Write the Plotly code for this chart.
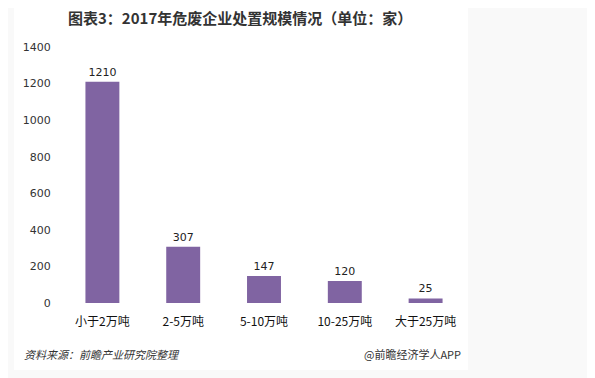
import plotly.graph_objects as go

categories = ["小于2万吨", "2-5万吨", "5-10万吨", "10-25万吨", "大于25万吨"]
values = [1210, 307, 147, 120, 25]
y_ticks = [0, 200, 400, 600, 800, 1000, 1200, 1400]

OFF = 8  # page body margin
W, H = 595 - OFF, 378 - OFF
L, T = 62 - OFF, 47 - OFF
R = W - (466 - OFF)
B = H - (303 - OFF)
pw, ph = W - L - R, H - T - B

def px(x):
    return (x - OFF - L) / pw

def py(y):
    return (H - B - (y - OFF)) / ph

fig = go.Figure(go.Bar(
    x=categories, y=values,
    marker=dict(color="#8064a2", line=dict(width=0)),
    text=[str(v) for v in values], textposition="outside",
    textfont=dict(family="DejaVu Sans", size=11, color="#222222"),
    cliponaxis=False, width=0.42,
))

fig.update_layout(
    width=W, height=H,
    margin=dict(l=L, r=R, t=T, b=B),
    paper_bgcolor="#f9f9f9", plot_bgcolor="rgba(0,0,0,0)",
    showlegend=False,
    font=dict(family="Noto Sans CJK SC"),
    xaxis=dict(showgrid=False, showline=False, zeroline=False,
               ticks="outside", ticklen=8, tickcolor="rgba(0,0,0,0)",
               tickfont=dict(family="Noto Sans CJK SC", size=12, color="#111111")),
    yaxis=dict(range=[0, 1400], tickvals=y_ticks, showgrid=False, showline=False,
               zeroline=False, ticks="outside", ticklen=8, tickcolor="rgba(0,0,0,0)",
               tickfont=dict(family="DejaVu Sans", size=11, color="#333333")),
    shapes=[dict(type="rect", xref="paper", yref="paper", layer="below",
                 x0=px(14), x1=px(468), y0=py(370), y1=py(0),
                 fillcolor="white", line=dict(width=0))],
    annotations=[
        dict(text="<b>图表3：2017年危废企业处置规模情况（单位：家）</b>", xref="paper", yref="paper",
             x=px(240), y=py(17), xanchor="center", yanchor="middle", showarrow=False,
             font=dict(family="Noto Sans CJK SC", size=15, color="#333333")),
        dict(text="<i>资料来源：前瞻产业研究院整理</i>", xref="paper", yref="paper",
             x=px(22), y=py(354), xanchor="left", yanchor="middle", showarrow=False,
             font=dict(family="Noto Sans CJK SC", size=11, color="#333333")),
        dict(text="@前瞻经济学人APP", xref="paper", yref="paper",
             x=px(463), y=py(354), xanchor="right", yanchor="middle", showarrow=False,
             font=dict(family="Noto Sans CJK SC", size=11, color="#333333")),
    ],
)

fig.write_html("out.html")
